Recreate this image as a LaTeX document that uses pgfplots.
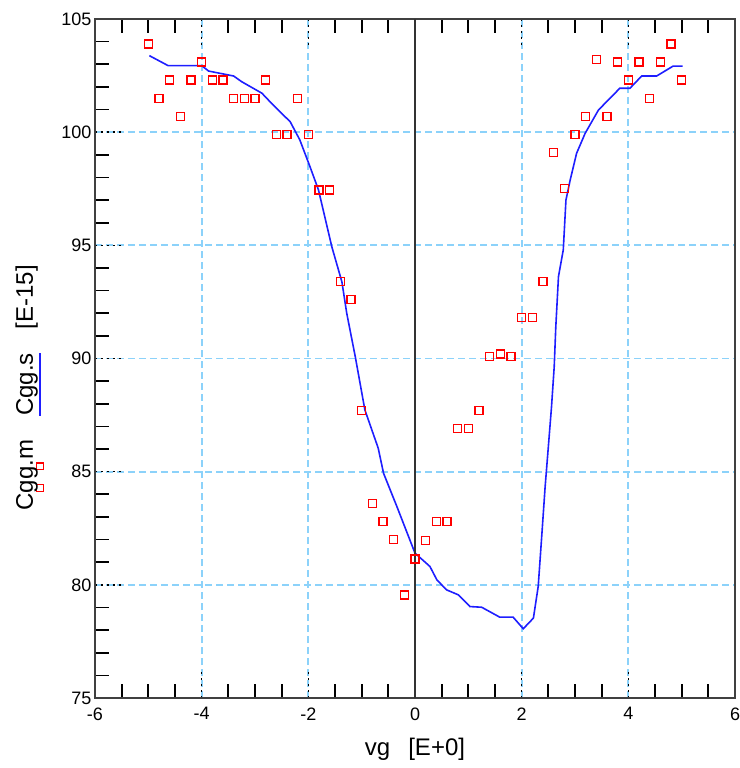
\documentclass[border=0pt]{standalone}
\usepackage{pgfplots}
\pgfplotsset{compat=1.18}
\usepackage{fontspec}
\setmainfont{Liberation Sans}
\definecolor{gridblue}{RGB}{140,210,250}
\definecolor{curveblue}{RGB}{30,30,255}
\definecolor{spine}{RGB}{64,64,64}
\newcommand{\sqmark}{{\setlength{\fboxsep}{2.6pt}\setlength{\fboxrule}{1.3pt}\fcolorbox{red}{white}{\rule{0pt}{0pt}}}}
\newsavebox{\lblbox}
\newcommand{\mlabel}{\sbox{\lblbox}{Cgg.m}\rlap{\hbox to \wd\lblbox{\hfill\raisebox{-7pt}{\sqmark}\hspace{14pt}\raisebox{-7pt}{\sqmark}\hspace{22.5pt}}}\usebox{\lblbox}}
\newcommand{\slabel}{\sbox{\lblbox}{Cgg.s}\rlap{\textcolor{curveblue}{\rule[-7.7pt]{\wd\lblbox}{1.4pt}}}\usebox{\lblbox}}

\pgfplotstableread{
x y
-5.0 103.9
-4.8 101.5
-4.6 102.3
-4.4 100.7
-4.2 102.3
-4.0 103.1
-3.8 102.3
-3.6 102.3
-3.4 101.5
-3.2 101.5
-3.0 101.5
-2.8 102.3
-2.6 99.9
-2.4 99.9
-2.2 101.5
-2.0 99.9
-1.8 97.45
-1.6 97.45
-1.4 93.4
-1.2 92.6
-1.0 87.7
-0.8 83.6
-0.6 82.8
-0.4 82.0
-0.2 79.55
0.0 81.15
0.2 81.95
0.4 82.8
0.6 82.8
0.8 86.9
1.0 86.9
1.2 87.7
1.4 90.1
1.6 90.2
1.8 90.1
2.0 91.8
2.2 91.8
2.4 93.4
2.6 99.1
2.8 97.5
3.0 99.9
3.2 100.7
3.4 103.2
3.6 100.7
3.8 103.1
4.0 102.3
4.2 103.1
4.4 101.5
4.6 103.1
4.8 103.9
5.0 102.3
}\measured

\pgfplotstableread{
x y
-4.98 103.38
-4.63 102.94
-4.00 102.94
-3.87 102.70
-3.40 102.48
-3.25 102.23
-2.87 101.72
-2.66 101.20
-2.34 100.46
-2.16 99.66
-1.97 98.48
-1.81 97.45
-1.56 94.94
-1.37 93.38
-1.28 92.00
-1.12 90.08
-0.94 87.73
-0.81 86.85
-0.69 86.04
-0.59 84.93
-0.34 83.46
0.00 81.40
0.28 80.81
0.41 80.22
0.59 79.78
0.81 79.56
1.03 79.04
1.25 79.01
1.59 78.57
1.84 78.57
2.03 78.06
2.22 78.53
2.31 79.93
2.38 82.28
2.44 84.34
2.50 86.10
2.56 87.88
2.61 89.64
2.64 91.41
2.69 93.62
2.78 94.80
2.83 97.00
2.91 97.89
3.03 99.07
3.19 99.95
3.44 100.98
3.84 101.94
4.03 101.94
4.25 102.48
4.53 102.48
4.84 102.92
5.02 102.92
}\simulated

\begin{document}
\begin{tikzpicture}
\begin{axis}[
  name=ax,
  scale only axis,
  width=640pt, height=679pt,
  xmin=-6, xmax=6, ymin=75, ymax=105,
  xtick={-6,-4,-2,0,2,4,6},
  xticklabels={-6,-4,-2,0,2,4,6},
  ytick={75,80,85,90,95,100,105},
  yticklabels={75,80,85,90,95,100,105},
  minor x tick num=3,
  minor y tick num=4,
  grid=major,
  major grid style={gridblue, line width=1.7pt, dash pattern=on 7pt off 4pt},
  tick align=inside,
  xtick pos=both, ytick pos=left, xticklabel pos=lower,
  major tick length=26pt,
  minor tick length=14pt,
  major tick style={black, line width=1.6pt, dash pattern=on 2pt off 4pt},
  minor tick style={black, line width=1.7pt},
  axis line style={spine, line width=1.8pt},
  ticklabel style={font=\fontsize{18}{20}\selectfont},
  xticklabel style={yshift=-6pt},
  label style={font=\fontsize{24}{28}\selectfont},
  xlabel={vg\hspace{0.75em}[E+0]},
  ylabel={\mlabel\hspace{1em}\slabel\hspace{1em}[E-15]},
  xlabel style={at={(axis description cs:0.5,0)}, anchor=center, yshift=-51pt},
  ylabel style={at={(axis description cs:-0.102,0.457)}, anchor=center},
]
\addplot[curveblue, line width=1.6pt] table[x=x,y=y] {\simulated};
\addplot[only marks, mark=square, mark size=4pt, mark options={red, line width=1.4pt, solid}] table[x=x,y=y] {\measured};
\draw[black!80, line width=1.6pt] (axis cs:0,75) -- (axis cs:0,105);
\end{axis}
\pgfresetboundingbox
\path ([xshift=-95pt,yshift=-70pt]ax.south west) rectangle ([xshift=4pt,yshift=19pt]ax.north east);
\end{tikzpicture}
\end{document}
